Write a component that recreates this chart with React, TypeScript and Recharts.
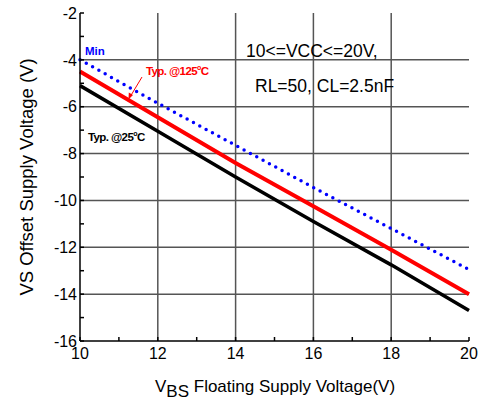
import React from 'react';
import { LineChart, Line, XAxis, YAxis, CartesianGrid } from 'recharts';

const vbs = [10, 12, 14, 16, 18, 20];
const minVs = [-4.0, -5.85, -7.65, -9.45, -11.2, -12.95];
const typ125 = [-4.5, -6.45, -8.4, -10.25, -12.1, -14.0];
const typ25 = [-5.1, -7.05, -9.0, -10.9, -12.75, -14.7];

const xTicks = [10, 11, 12, 13, 14, 15, 16, 17, 18, 19, 20];
const yTicks = [-16, -15, -14, -13, -12, -11, -10, -9, -8, -7, -6, -5, -4, -3, -2];
const xGrid = [12, 14, 16, 18];
const yGrid = [-14, -12, -10, -8, -6, -4];

const data = vbs.map((x, i) => ({ x, min: minVs[i], t125: typ125[i], t25: typ25[i] }));

const font = 'Arial, "Liberation Sans", sans-serif';
const evenOnly = (v: number) => (v % 2 === 0 ? String(v) : '');
const blank = () => '';

export default function App() {
  const tick = { fill: '#000', fontSize: 16, fontFamily: font };
  return (
    <div style={{ position: 'absolute', left: 0, top: 0, width: 479, height: 402, background: '#fff' }}>
      <LineChart width={479} height={402} data={data} margin={{ top: 13, right: 10, left: 0, bottom: 0 }}>
        <CartesianGrid
          stroke="#555"
          strokeWidth={1.5}
          horizontalValues={yGrid}
          verticalValues={xGrid}
        />
        <XAxis
          dataKey="x"
          type="number"
          domain={[10, 20]}
          ticks={xTicks}
          tickFormatter={evenOnly}
          interval={0}
          height={61}
          tickSize={-4}
          tickMargin={11}
          tick={tick}
          stroke="#000"
          strokeWidth={1.5}
        />
        <XAxis
          xAxisId="top"
          dataKey="x"
          type="number"
          orientation="top"
          domain={[10, 20]}
          ticks={xTicks}
          tickFormatter={blank}
          interval={0}
          height={0}
          tickSize={-4}
          stroke="#555"
          strokeWidth={1.5}
        />
        <YAxis
          type="number"
          domain={[-16, -2]}
          ticks={yTicks}
          tickFormatter={evenOnly}
          interval={0}
          width={80}
          tickSize={-4}
          tickMargin={7}
          tick={tick}
          stroke="#000"
          strokeWidth={1.5}
        />
        <YAxis
          yAxisId="right"
          orientation="right"
          type="number"
          domain={[-16, -2]}
          ticks={yTicks}
          tickFormatter={blank}
          interval={0}
          width={0}
          tickSize={-4}
          stroke="#000"
          strokeWidth={2}
        />
        <Line
          dataKey="t25"
          stroke="#000"
          strokeWidth={3.5}
          dot={false}
          isAnimationActive={false}
        />
        <Line
          dataKey="t125"
          stroke="#ff0000"
          strokeWidth={4}
          dot={false}
          isAnimationActive={false}
        />
        <Line
          dataKey="min"
          stroke="#0000ff"
          strokeWidth={3.5}
          strokeDasharray="0 7.2"
          strokeLinecap="round"
          dot={false}
          isAnimationActive={false}
        />
      </LineChart>
      <svg
        width={479}
        height={402}
        style={{ position: 'absolute', left: 0, top: 0, pointerEvents: 'none' }}
        fontFamily={font}
      >
        <text x={85} y={55} fontSize={11.5} fontWeight="bold" fill="#0000ff">Min</text>
        <text x={146} y={75} fontSize={11.5} fontWeight="bold" fill="#ff0000" letterSpacing={-0.6}>
          Typ. @125<tspan fontSize={7} dy={-5}>o</tspan><tspan dy={5}>C</tspan>
        </text>
        <line x1={142} y1={77} x2={130} y2={97} stroke="#ff0000" strokeWidth={1} />
        <polygon points="128.5,99.5 128.8,92.5 133,95" fill="#ff0000" />
        <text x={88} y={141} fontSize={11.5} fontWeight="bold" fill="#000" letterSpacing={-0.6}>
          Typ. @25<tspan fontSize={7} dy={-5}>o</tspan><tspan dy={5}>C</tspan>
        </text>
        <text x={246} y={57} fontSize={17.5} fill="#000">10&lt;=VCC&lt;=20V,</text>
        <text x={255} y={92} fontSize={17.5} fill="#000">RL=50, CL=2.5nF</text>
        <text x={33} y={177} fontSize={18.5} fill="#000" textAnchor="middle" transform="rotate(-90 33 177)">
          VS Offset Supply Voltage (V)
        </text>
        <text x={155} y={392} fontSize={17} fill="#000">
          V<tspan dy={5}>BS</tspan><tspan dy={-5}> Floating Supply Voltage(V)</tspan>
        </text>
      </svg>
    </div>
  );
}
